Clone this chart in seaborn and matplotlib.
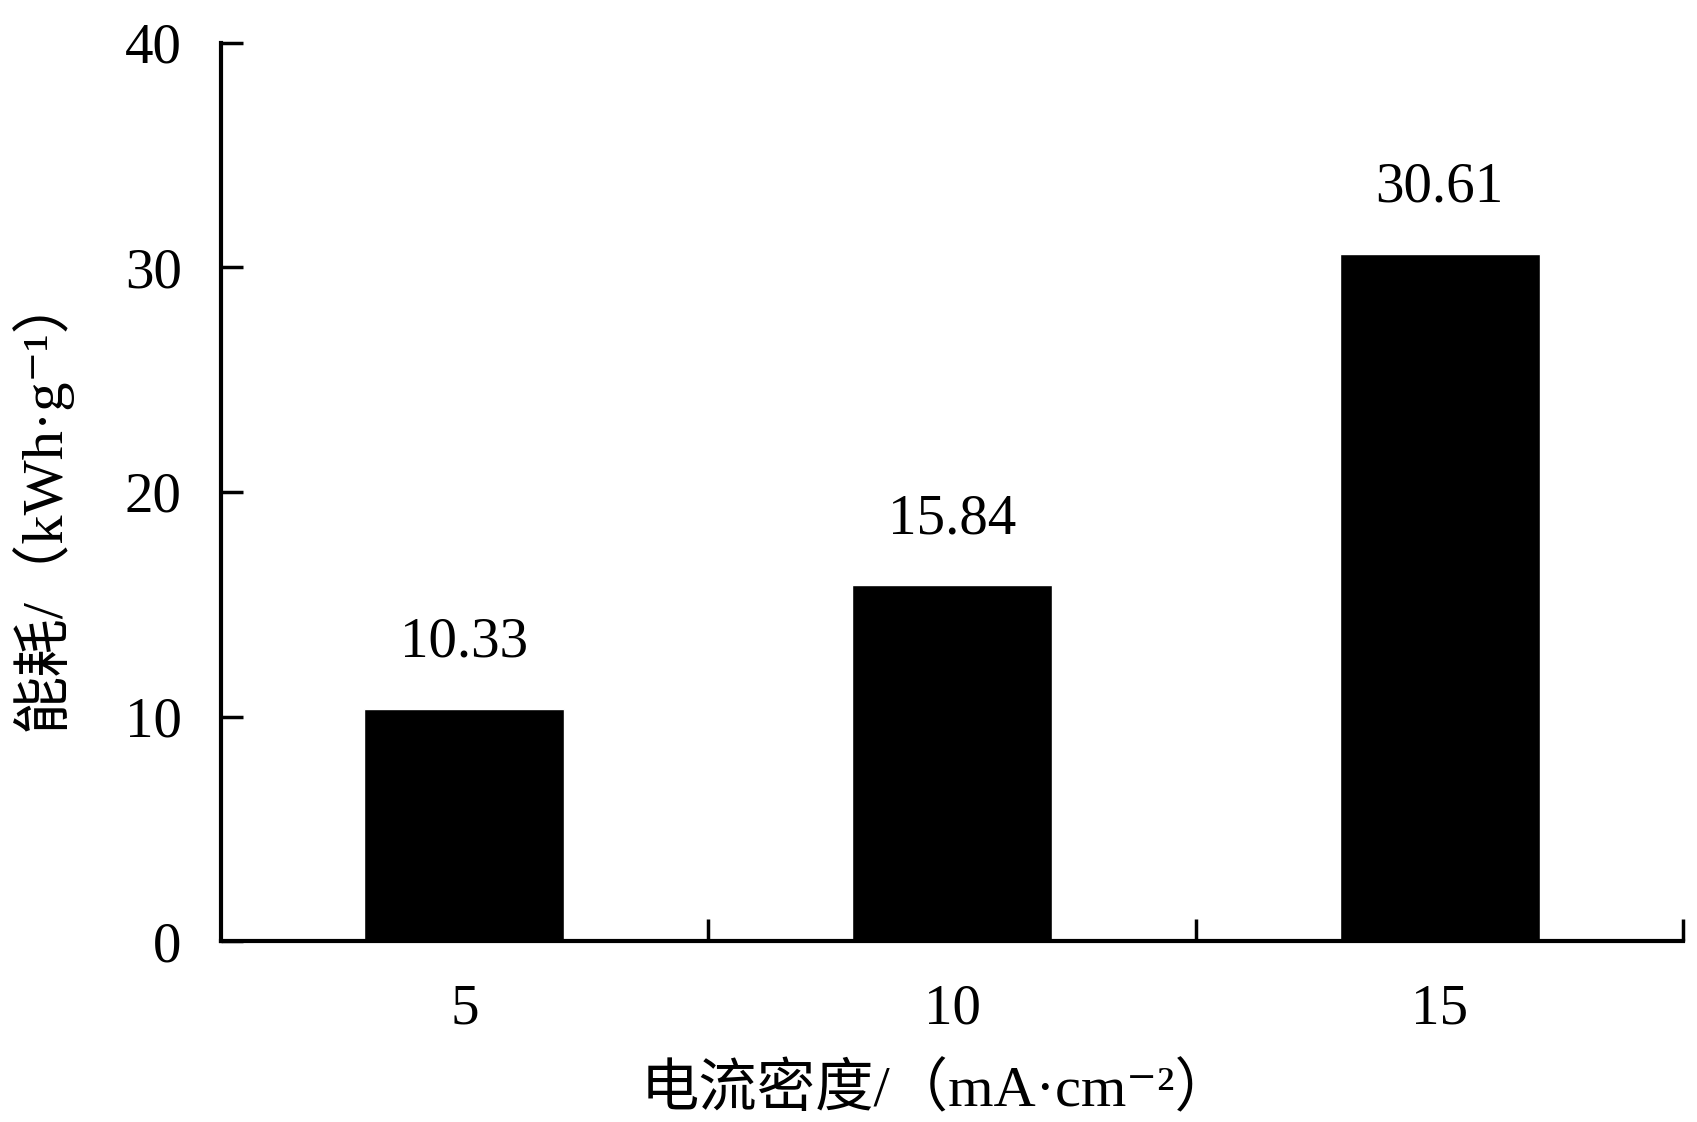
import numpy as np
import pandas as pd
from matplotlib import pyplot as plt
from matplotlib.ticker import FixedLocator
import seaborn as sns

current_density = ["5", "10", "15"]
energy_use = [10.33, 15.84, 30.61]
value_labels = ["10.33", "15.84", "30.61"]

sns.set_theme(style="white")
plt.rcParams['font.family'] = ['Liberation Serif', 'DejaVu Serif', 'Noto Sans CJK SC']
plt.rcParams['text.color'] = 'black'
plt.rcParams['axes.labelcolor'] = 'black'
plt.rcParams['xtick.color'] = 'black'
plt.rcParams['ytick.color'] = 'black'

df = pd.DataFrame({"density": current_density, "energy": energy_use})

fig = plt.figure(figsize=(16.97, 11.22), dpi=100)
ax = fig.add_axes([0.130, 0.161, 0.862, 0.801])

sns.barplot(data=df, x="density", y="energy", color="black",
            width=0.41, saturation=1, ax=ax)

# value labels above the bars
for i, (v, lab) in enumerate(zip(energy_use, value_labels)):
    ax.annotate(lab, (i, v), xytext=(0, 29), textcoords="offset points",
                ha="center", va="bottom", fontsize=41, color="black")

ax.set_xlim(-0.5, 2.5)
ax.set_ylim(0, 40)
ax.set_yticks([0, 10, 20, 30, 40])

# tick marks sit between categories, like the original
ax.xaxis.set_minor_locator(FixedLocator([0.5, 1.5, 2.5]))
ax.tick_params(axis="x", which="major", length=0, pad=30, labelsize=41)
ax.tick_params(axis="x", which="minor", direction="in", length=16, width=2.5,
               bottom=True, color="black")
ax.tick_params(axis="y", direction="in", length=16, width=2.5, pad=28,
               labelsize=41, left=True, color="black")

for s in ["top", "right"]:
    ax.spines[s].set_visible(False)
for s in ["left", "bottom"]:
    ax.spines[s].set_color("black")
    ax.spines[s].set_linewidth(3)

ax.set_xlabel("电流密度/（mA·cm⁻²）", fontsize=42)
ax.set_ylabel("能耗/（kWh·g⁻¹）", fontsize=42)
ax.xaxis.set_label_coords(0.49, -0.135)
ax.yaxis.set_label_coords(-0.102, 0.49)

fig.savefig("out.png", dpi=100)
